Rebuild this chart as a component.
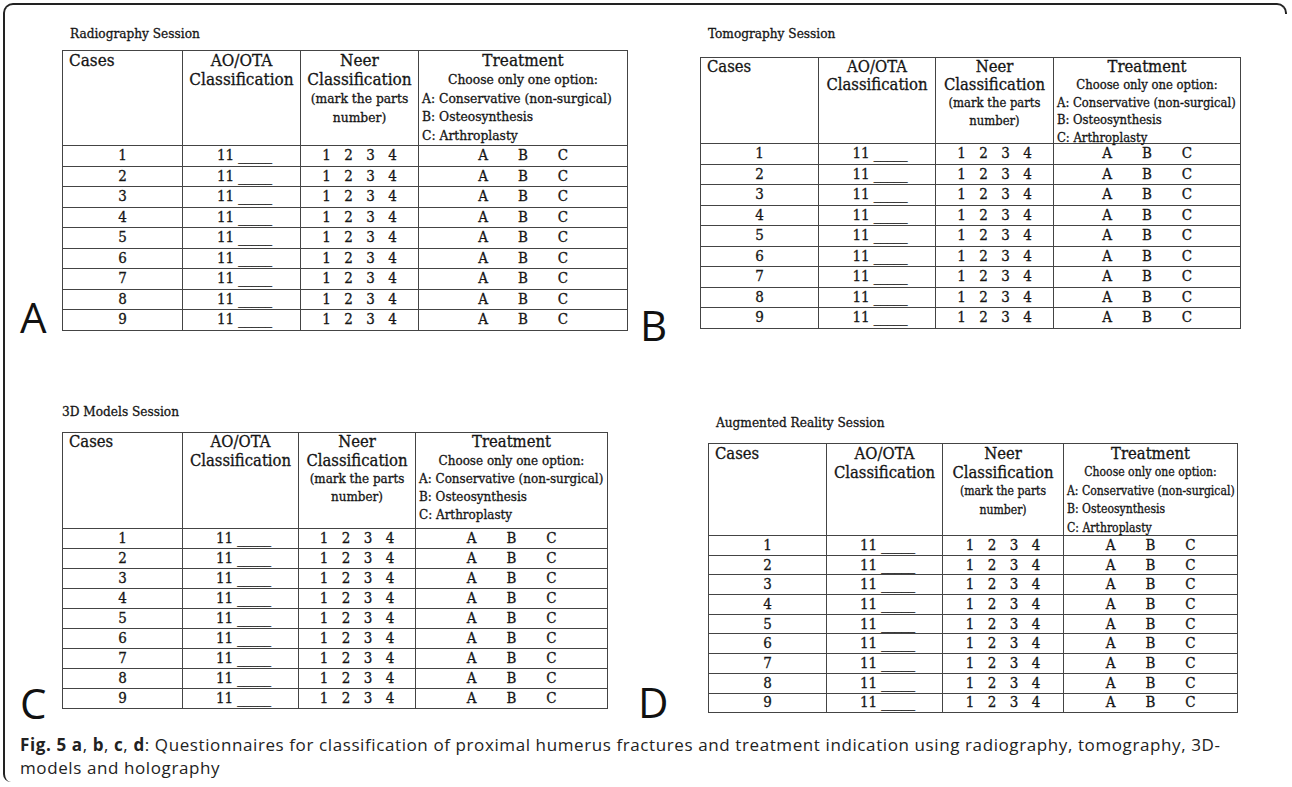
import React from 'react';

// Questionnaire figure: four session forms (A–D) + caption
const sessionTitles = ['Radiography Session', 'Tomography Session', '3D Models Session', 'Augmented Reality Session'];
const panelLetters = ['A', 'B', 'C', 'D'];
const caseNumbers = [1, 2, 3, 4, 5, 6, 7, 8, 9];
const aoAnswer = '11 _____';
const neerParts = ['1', '2', '3', '4'];
const treatmentChoices = ['A', 'B', 'C'];
const treatmentLegend = ['A: Conservative (non-surgical)', 'B: Osteosynthesis', 'C: Arthroplasty'];
const captionLine1 = ': Questionnaires for classification of proximal humerus fractures and treatment indication using radiography, tomography, 3D-';
const captionLine2 = 'models and holography';

// layout per panel (px on the 1292x787 page); the four scans differ slightly in scale
const panels = [
  { titleX: 70, titleY: 25, x: 62, y: 50, cols: [120, 118, 118, 209], headerH: 95, rowH: 20.5,
    headFont: 17, headLine: 19, smallFont: 13.7, smallLine: 18.5, letterX: 20, letterY: 294 },
  { titleX: 708, titleY: 25, x: 700, y: 57, cols: [118, 117, 118, 187], headerH: 86, rowH: 20.5,
    headFont: 16.5, headLine: 18, smallFont: 12.9, smallLine: 17.5, letterX: 640, letterY: 302 },
  { titleX: 62, titleY: 403, x: 62, y: 432, cols: [120, 116, 117, 192], headerH: 96, rowH: 20,
    headFont: 16.5, headLine: 18.5, smallFont: 13.3, smallLine: 18, letterX: 20, letterY: 680 },
  { titleX: 716, titleY: 414, x: 708, y: 443, cols: [118, 116, 121, 174], headerH: 92, rowH: 19.7,
    headFont: 16.5, headLine: 19, smallFont: 12.1, smallLine: 18.5, letterX: 638, letterY: 679 },
];

const SERIF = "'DejaVu Serif Condensed', 'DejaVu Serif', serif";
const SANS = "'Open Sans', 'Noto Sans', sans-serif";
const LINE = '1.2px solid #444';
const INK: React.CSSProperties = { color: '#151515', WebkitTextStroke: '0.3px #151515' };

function SessionTable({ index }: { index: number }) {
  const p = panels[index];
  const width = p.cols.reduce((a, b) => a + b, 0);
  const cell: React.CSSProperties = { border: LINE, padding: 0, textAlign: 'center', verticalAlign: 'middle' };
  const head: React.CSSProperties = { ...cell, verticalAlign: 'top', fontSize: p.headFont, lineHeight: `${p.headLine}px` };
  const small: React.CSSProperties = { fontSize: p.smallFont, lineHeight: `${p.smallLine}px`, whiteSpace: 'nowrap' };
  const box: React.CSSProperties = { height: p.headerH - 2, overflow: 'visible' };

  return (
    <>
      <div style={{ position: 'absolute', left: p.titleX, top: p.titleY, fontFamily: SERIF, fontSize: 13.5, ...INK }}>
        {sessionTitles[index]}
      </div>
      <div style={{ position: 'absolute', left: p.letterX, top: p.letterY, fontFamily: SANS, fontSize: 42, lineHeight: '46px', color: '#111' }}>
        {panelLetters[index]}
      </div>
      <table
        style={{
          position: 'absolute', left: p.x, top: p.y, width, borderCollapse: 'collapse', tableLayout: 'fixed',
          fontFamily: SERIF, ...INK,
        }}
      >
        <colgroup>
          {p.cols.map((w, i) => <col key={i} style={{ width: w }} />)}
        </colgroup>
        <tbody>
          <tr style={{ height: p.headerH }}>
            <td style={{ ...head, textAlign: 'left', paddingLeft: 6 }}><div style={box}>Cases</div></td>
            <td style={head}><div style={box}>AO/OTA<br />Classification</div></td>
            <td style={head}>
              <div style={box}>
                Neer<br />Classification
                <div style={small}>(mark the parts<br />number)</div>
              </div>
            </td>
            <td style={head}>
              <div style={box}>
                Treatment
                <div style={small}>Choose only one option:</div>
                <div style={{ ...small, textAlign: 'left', paddingLeft: 3 }}>
                  {treatmentLegend.map((t) => <div key={t}>{t}</div>)}
                </div>
              </div>
            </td>
          </tr>
          {caseNumbers.map((n) => (
            <tr key={n} style={{ height: p.rowH, fontSize: 15, lineHeight: '17px' }}>
              <td style={cell}>{n}</td>
              <td style={{ ...cell, paddingLeft: 6 }}>{aoAnswer}</td>
              <td style={cell}>
                {neerParts.map((v) => <span key={v} style={{ display: 'inline-block', width: 22 }}>{v}</span>)}
              </td>
              <td style={cell}>
                {treatmentChoices.map((v) => <span key={v} style={{ display: 'inline-block', width: 40 }}>{v}</span>)}
              </td>
            </tr>
          ))}
        </tbody>
      </table>
    </>
  );
}

export default function App() {
  return (
    <div style={{ position: 'fixed', left: 0, top: 0, width: 1292, height: 787, overflow: 'hidden', background: '#fff' }}>
      {/* figure frame: top + left border with rounded corners */}
      <div
        style={{
          position: 'absolute', left: 3, top: 3, width: 1284, height: 779,
          borderTop: '2px solid #222', borderLeft: '2px solid #222', borderRight: '2px solid #222',
          borderTopLeftRadius: 10, borderTopRightRadius: 10, borderBottomLeftRadius: 8,
          boxSizing: 'border-box',
        }}
      />
      <div style={{ position: 'absolute', left: 1284, top: 14, width: 10, height: 780, background: '#fff' }} />
      {panels.map((_, i) => <SessionTable key={i} index={i} />)}
      <div
        style={{
          position: 'absolute', left: 20, top: 733, fontFamily: SANS, fontSize: 17, lineHeight: '23px',
          letterSpacing: 0.6, color: '#222', whiteSpace: 'nowrap',
        }}
      >
        <div>
          <b>Fig. 5</b> <b>a</b>, <b>b</b>, <b>c</b>, <b>d</b>{captionLine1}
        </div>
        <div>{captionLine2}</div>
      </div>
    </div>
  );
}
